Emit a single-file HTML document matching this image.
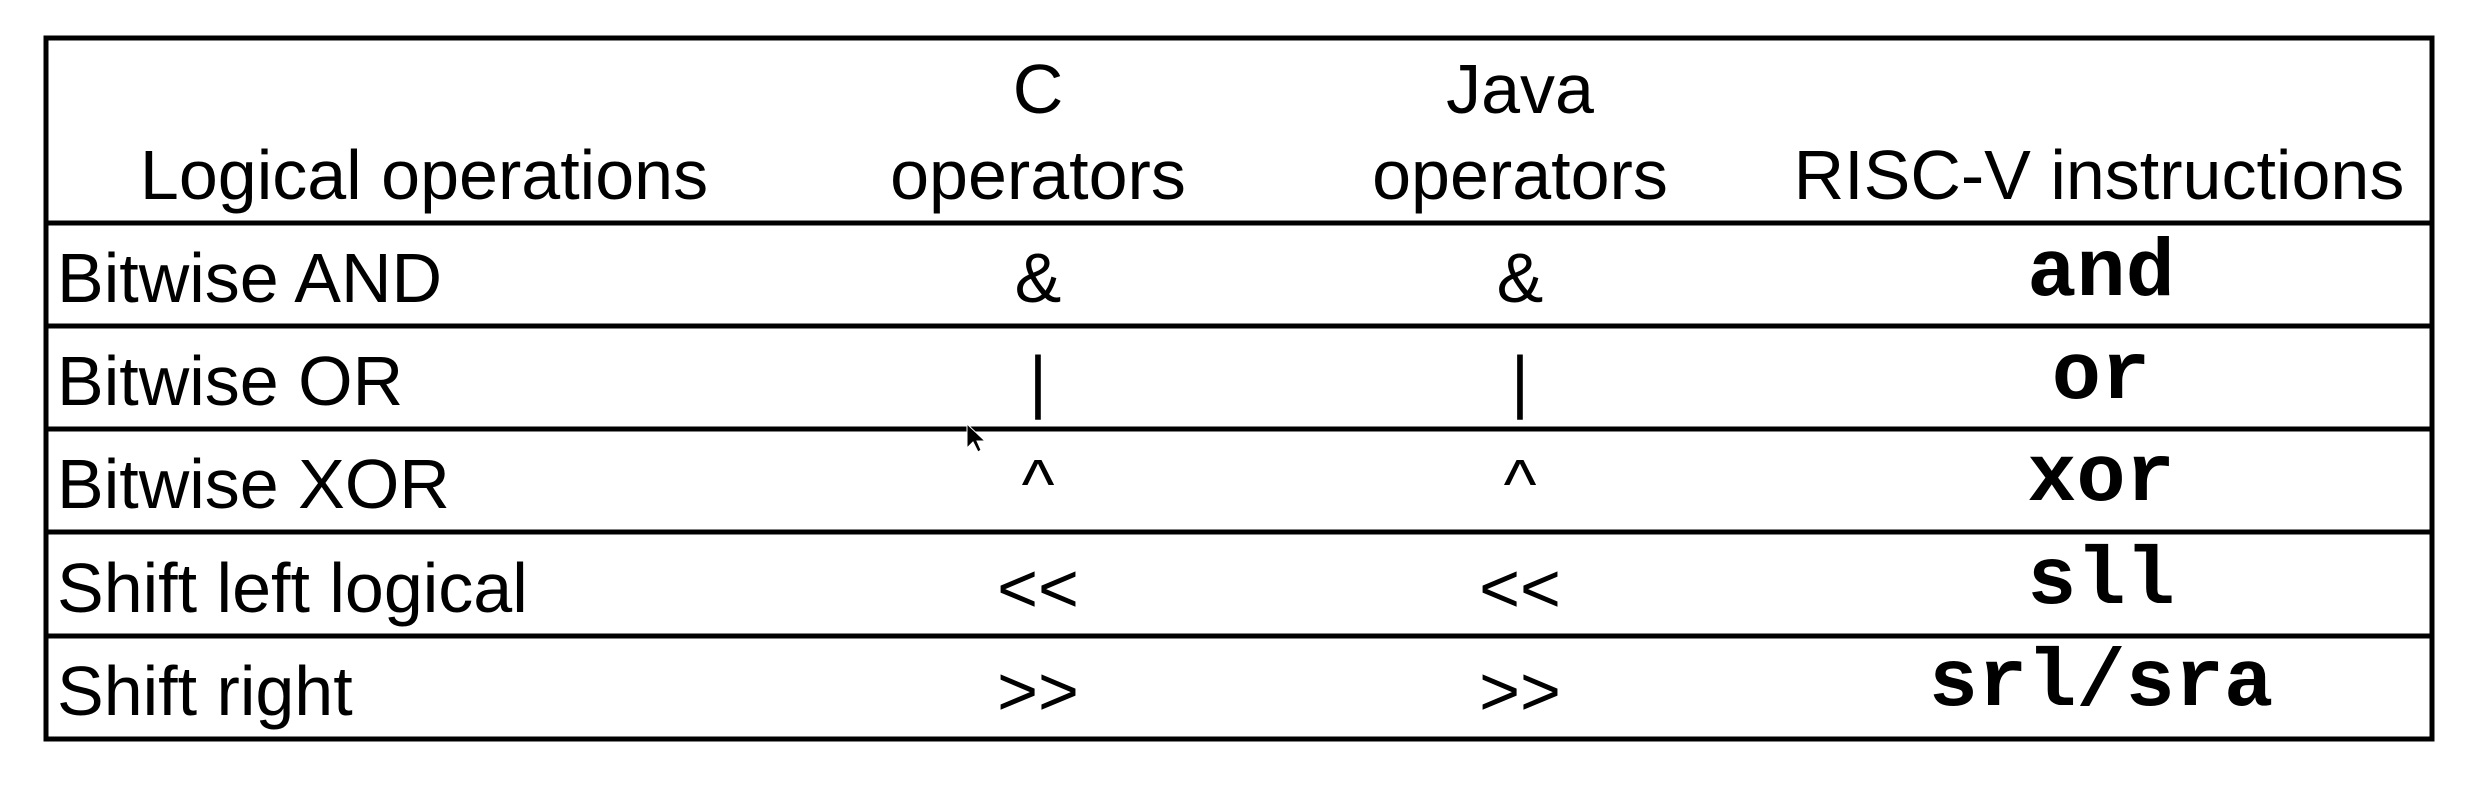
<!DOCTYPE html>
<html><head><meta charset="utf-8"><style>html,body{margin:0;padding:0;background:#fff;}svg{display:block}</style></head>
<body>
<svg width="2482" height="790" viewBox="0 0 2482 790" xmlns="http://www.w3.org/2000/svg">
<rect x="0" y="0" width="2482" height="790" fill="#fff"/>
<g stroke="#000" stroke-width="5" fill="none">
<rect x="46" y="38" width="2386" height="701"/>
<line x1="46" y1="223" x2="2432" y2="223"/>
<line x1="46" y1="326" x2="2432" y2="326"/>
<line x1="46" y1="429" x2="2432" y2="429"/>
<line x1="46" y1="532" x2="2432" y2="532"/>
<line x1="46" y1="636" x2="2432" y2="636"/>
</g>
<g font-family="'Liberation Sans', sans-serif" font-size="70" fill="#000">
<text x="1038" y="113" text-anchor="middle">C</text>
<text x="1520" y="113" text-anchor="middle">Java</text>
<text x="424" y="199" text-anchor="middle">Logical operations</text>
<text x="1038" y="199" text-anchor="middle">operators</text>
<text x="1520" y="199" text-anchor="middle">operators</text>
<text x="2099" y="199" text-anchor="middle">RISC-V instructions</text>
<text x="57" y="302">Bitwise AND</text>
<text x="57" y="405">Bitwise OR</text>
<text x="57" y="508">Bitwise XOR</text>
<text x="57" y="612">Shift left logical</text>
<text x="57" y="715">Shift right</text>
<text x="1038" y="302" text-anchor="middle">&amp;</text>
<text x="1520" y="302" text-anchor="middle">&amp;</text>
<text x="1038" y="405" text-anchor="middle">|</text>
<text x="1520" y="405" text-anchor="middle">|</text>
<text x="1038" y="508" text-anchor="middle">^</text>
<text x="1520" y="508" text-anchor="middle">^</text>
<text x="1038" y="612" text-anchor="middle">&lt;&lt;</text>
<text x="1520" y="612" text-anchor="middle">&lt;&lt;</text>
<text x="1038" y="715" text-anchor="middle">&gt;&gt;</text>
<text x="1520" y="715" text-anchor="middle">&gt;&gt;</text>
</g>
<g font-family="'Liberation Mono', monospace" font-weight="bold" font-size="82" fill="#000" text-anchor="middle">
<text x="2101" y="295">and</text>
<text x="2101" y="398">or</text>
<text x="2101" y="500">xor</text>
<text x="2101" y="603">sll</text>
<text x="2101" y="705">srl/sra</text>
</g>
<path d="M967 424 L967 448 L973 442 L978 452 L981 450 L977 441 L985 441 Z" fill="#000" stroke="#fff" stroke-width="1"/>
</svg>
</body></html>
